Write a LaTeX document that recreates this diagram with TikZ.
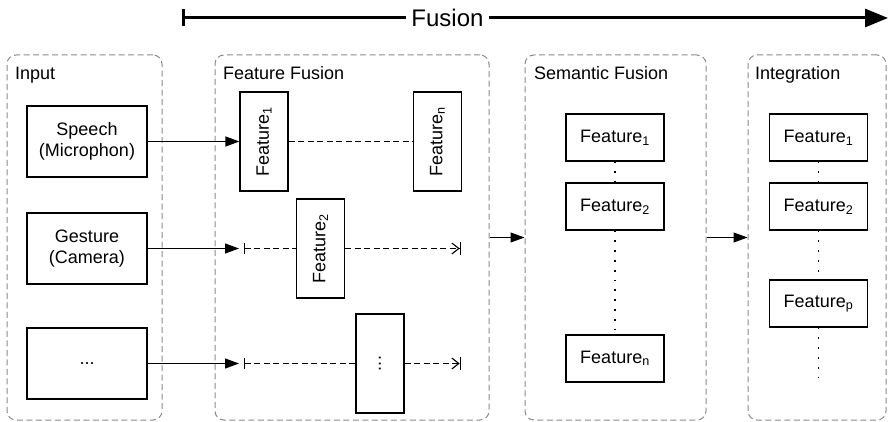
\documentclass[tikz,border=0pt]{standalone}
\usepackage{fontspec}
\setmainfont{Liberation Sans}
\usetikzlibrary{arrows.meta}
\definecolor{framegray}{HTML}{8A8A8A}
\tikzset{
  txt/.style={font=\fontsize{18}{21.5}\selectfont},
  frame/.style={draw=framegray, line width=1pt, dash pattern=on 6pt off 3.5pt, rounded corners=9pt, minimum height=365pt, inner sep=0pt},
  lab/.style={txt, anchor=base west, inner sep=0pt},
  srcbox/.style={draw, line width=1.2pt, minimum width=120pt, minimum height=71pt, inner sep=0pt, align=center, txt},
  vbox/.style={draw, line width=1.2pt, rotate=90, minimum width=99pt, minimum height=48pt, inner sep=0pt, txt},
  hbox/.style={draw, line width=1.2pt, minimum width=98pt, minimum height=47pt, inner sep=0pt, txt},
  conn/.style={line width=1.2pt, -{Triangle[length=14pt,width=10pt]}},
  dline/.style={line width=1.1pt, dash pattern=on 6pt off 3.5pt},
  startbar/.style={{Bar[width=11pt,line width=1.2pt]}-},
  endbar/.style={-{Straight Barb[length=7pt,width=11pt,line width=1.1pt]Bar[width=13pt,line width=1.3pt]}},
  dotline/.style={line width=1.8pt, dash pattern=on 1.8pt off 8pt, line cap=butt},
}
\begin{document}
\begin{tikzpicture}[x=1pt,y=-1pt]
\useasboundingbox (0,0) rectangle (888,422);

% top Fusion arrow
\node[font=\fontsize{24}{28}\selectfont, inner sep=5pt] (fus) at (447.5,18) {Fusion};
\coordinate (fstart) at (182,18);
\coordinate (fend) at (888,18);
\draw[line width=3pt, {Bar[width=17pt,line width=3pt]}-] (fstart) -- (fus.west);
\draw[line width=3pt, -{Triangle[length=23pt,width=18pt]}] (fus.east) -- (fend);

% containers
\node[frame, minimum width=155pt] (inp) at (84.5,237.5) {};
\node[frame, minimum width=274pt] (ff) at (352,237.5) {};
\node[frame, minimum width=181pt] (sf) at (615.5,237.5) {};
\node[frame, minimum width=138pt] (ig) at (817,237.5) {};
\node[lab] (linp) at (15,80) {Input};
\node[lab] (lff) at (223,80) {Feature Fusion};
\node[lab] (lsf) at (534,80) {Semantic Fusion};
\node[lab] (lig) at (755,80) {Integration};

% input boxes
\node[srcbox] (speech) at (87,141.5) {Speech\\(Microphon)};
\node[srcbox] (gesture) at (87,248.5) {Gesture\\(Camera)};
\node[srcbox] (more) at (87,363.5) {...};

% feature fusion boxes (rotated: north = left side, south = right side)
\node[vbox] (ff1) at (264,141.5) {Feature\textsubscript{1}};
\node[vbox] (ffn) at (437.5,141.5) {Feature\textsubscript{n}};
\node[vbox] (ff2) at (320.5,248.5) {Feature\textsubscript{2}};
\node[vbox] (ffd) at (380,363.5) {...};

% connectors input -> feature fusion
\draw[conn] (speech.east) -- (ff1.north);
\draw[dline] (ff1.south) -- (ffn.north);

\coordinate (gtip) at (239,248.5);
\coordinate (gbar) at (244,248.5);
\coordinate (gend) at (461,248.5);
\draw[conn] (gesture.east) -- (gtip);
\draw[dline, startbar] (gbar) -- (ff2.north);
\draw[dline, endbar] (ff2.south) -- (gend);

\coordinate (mtip) at (239,363.5);
\coordinate (mbar) at (244,363.5);
\coordinate (mend) at (461,363.5);
\draw[conn] (more.east) -- (mtip);
\draw[dline, startbar] (mbar) -- (ffd.north);
\draw[dline, endbar] (ffd.south) -- (mend);

% between stages
\draw[conn] (ff.east) -- (sf.west);
\draw[conn] (sf.east) -- (ig.west);

% semantic fusion
\node[hbox] (sf1) at (615,137.5) {Feature\textsubscript{1}};
\node[hbox] (sf2) at (615,206.5) {Feature\textsubscript{2}};
\node[hbox] (sfn) at (615,358.5) {Feature\textsubscript{n}};
\draw[dotline] (sf1.south) -- (sf2.north);
\draw[dotline] (sf2.south) -- (sfn.north);

% integration
\node[hbox] (ig1) at (818.5,137.5) {Feature\textsubscript{1}};
\node[hbox] (ig2) at (818.5,206.5) {Feature\textsubscript{2}};
\node[hbox] (igp) at (818.5,303.5) {Feature\textsubscript{p}};
\coordinate (igend) at (818.5,378);
\draw[dotline] (ig1.south) -- (ig2.north);
\draw[dotline] (ig2.south) -- (igp.north);
\draw[dotline] (igp.south) -- (igend);
\end{tikzpicture}
\end{document}
